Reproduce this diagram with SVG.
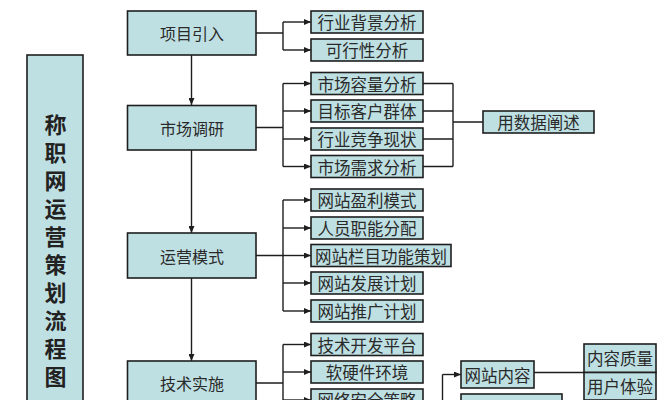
<svg xmlns="http://www.w3.org/2000/svg" width="667" height="400" viewBox="0 0 667 400">
<style>
.box{fill:#bfe0e3;stroke:#1e1e1e;stroke-width:1.6}
.t{font-family:"Noto Sans CJK SC","Liberation Sans",sans-serif;font-size:16.5px;fill:#2a2a2a;text-anchor:middle;dominant-baseline:central}
.m{font-size:16px}
.title{font-family:"Noto Sans CJK SC","Liberation Sans",sans-serif;font-size:22px;font-weight:bold;fill:#222;writing-mode:vertical-rl;text-orientation:upright;letter-spacing:6px}
.ln{fill:none;stroke:#1e1e1e;stroke-width:1.4}
.ar{marker-end:url(#ah)}
</style>
<defs>
<marker id="ah" markerUnits="userSpaceOnUse" markerWidth="7" markerHeight="6" refX="7" refY="3" orient="auto">
<path d="M0,0 L7,3 L0,6 z" fill="#1e1e1e"/>
</marker>
</defs>
<rect width="667" height="400" fill="#ffffff"/>

<g id="connectors">
<path class="ln ar" d="M191.5,55 V105"/>
<path class="ln ar" d="M191.5,150 V233"/>
<path class="ln ar" d="M191.5,278 V361"/>
<path class="ln" d="M256,33 H283 M283,22 V50"/>
<path class="ln ar" d="M283,22 H311"/>
<path class="ln ar" d="M283,50 H311"/>
<path class="ln" d="M256,127.5 H283 M283,83.5 V166.5"/>
<path class="ln ar" d="M283,83.5 H311"/>
<path class="ln ar" d="M283,111 H311"/>
<path class="ln ar" d="M283,139 H311"/>
<path class="ln ar" d="M283,166.5 H311"/>
<path class="ln" d="M423,83.5 H453 M423,111 H453 M423,139 H453 M423,166.5 H453 M453,83.5 V166.5 M453,122 H483"/>
<path class="ln" d="M256,255.5 H283 M283,200 V311"/>
<path class="ln ar" d="M283,200 H311"/>
<path class="ln ar" d="M283,228 H311"/>
<path class="ln ar" d="M283,255.5 H311"/>
<path class="ln ar" d="M283,283 H311"/>
<path class="ln ar" d="M283,311 H311"/>
<path class="ln" d="M256,383 H283 M283,344.5 V402"/>
<path class="ln ar" d="M283,344.5 H311"/>
<path class="ln ar" d="M283,372 H311"/>
<path class="ln ar" d="M283,400 H311"/>
<path class="ln" d="M442.5,402 V374.5"/>
<path class="ln ar" d="M442.5,374.5 H461"/>
<path class="ln" d="M534,372.5 H584"/>
</g>

<g id="title">
<rect class="box" x="27" y="55" width="56" height="360"/>
<text class="title" x="55.5" y="114">称职网运营策划流程图</text>
</g>

<g id="n-xmyr"><rect class="box" x="127.5" y="11" width="128.5" height="44"/><text class="t m" x="192" y="33">项目引入</text></g>
<g id="n-scdy"><rect class="box" x="127.5" y="105.5" width="128.5" height="44.5"/><text class="t m" x="192" y="128">市场调研</text></g>
<g id="n-yyms"><rect class="box" x="127.5" y="233" width="128.5" height="45"/><text class="t m" x="192" y="256">运营模式</text></g>
<g id="n-jsss"><rect class="box" x="127.5" y="361" width="128.5" height="60"/><text class="t m" x="192" y="383">技术实施</text></g>

<g id="n-hybj"><rect class="box" x="311" y="11" width="112" height="22"/><text class="t" x="367" y="22">行业背景分析</text></g>
<g id="n-kxx"><rect class="box" x="311" y="39" width="112" height="22"/><text class="t" x="367" y="50">可行性分析</text></g>
<g id="n-scrl"><rect class="box" x="311" y="72.5" width="112" height="22"/><text class="t" x="367" y="83.5">市场容量分析</text></g>
<g id="n-mbkh"><rect class="box" x="311" y="100" width="112" height="22"/><text class="t" x="367" y="111">目标客户群体</text></g>
<g id="n-hyjz"><rect class="box" x="311" y="128" width="112" height="22"/><text class="t" x="367" y="139">行业竞争现状</text></g>
<g id="n-scxq"><rect class="box" x="311" y="155.5" width="112" height="22"/><text class="t" x="367" y="166.5">市场需求分析</text></g>
<g id="n-ysj"><rect class="box" x="483" y="111" width="111" height="22"/><text class="t" x="538.5" y="122">用数据阐述</text></g>

<g id="n-wzyl"><rect class="box" x="311" y="189" width="112" height="22"/><text class="t" x="367" y="200">网站盈利模式</text></g>
<g id="n-ryzn"><rect class="box" x="311" y="217" width="112" height="22"/><text class="t" x="367" y="228">人员职能分配</text></g>
<g id="n-wzlm"><rect class="box" x="311" y="244.5" width="140" height="22"/><text class="t" x="381" y="255.5">网站栏目功能策划</text></g>
<g id="n-wzfz"><rect class="box" x="311" y="272" width="112" height="22"/><text class="t" x="367" y="283">网站发展计划</text></g>
<g id="n-wztg"><rect class="box" x="311" y="300" width="112" height="22"/><text class="t" x="367" y="311">网站推广计划</text></g>

<g id="n-jskf"><rect class="box" x="311" y="333.5" width="112" height="22"/><text class="t" x="367" y="344.5">技术开发平台</text></g>
<g id="n-ryj"><rect class="box" x="311" y="361" width="112" height="22"/><text class="t" x="367" y="372">软硬件环境</text></g>
<g id="n-wlaq"><rect class="box" x="311" y="389" width="112" height="22"/><text class="t" x="367" y="400">网络安全策略</text></g>

<g id="n-wznr"><rect class="box" x="461" y="361" width="73" height="27"/><text class="t" x="497.5" y="374.5">网站内容</text></g>
<g id="n-below"><rect class="box" x="461" y="394" width="101" height="22"/></g>
<g id="n-nrzl"><rect class="box" x="584" y="344" width="72" height="28.5"/><text class="t" x="620" y="358">内容质量</text></g>
<g id="n-yhty"><rect class="box" x="584" y="372.5" width="72" height="27.5"/><text class="t" x="620" y="386">用户体验</text></g>
</svg>
